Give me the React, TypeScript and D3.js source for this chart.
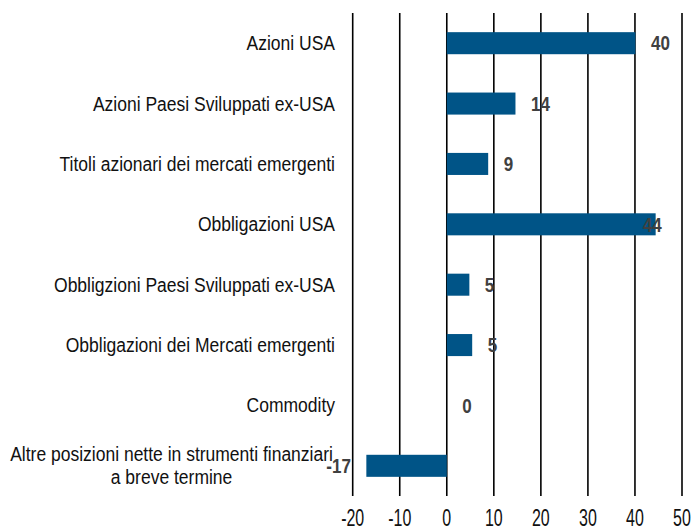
import React from "react";
import * as d3 from "d3";

// categories top to bottom, as in the source chart
const categories = [
  "Azioni USA",
  "Azioni Paesi Sviluppati ex-USA",
  "Titoli azionari dei mercati emergenti",
  "Obbligazioni USA",
  "Obbligzioni Paesi Sviluppati ex-USA",
  "Obbligazioni dei Mercati emergenti",
  "Commodity",
  "Altre posizioni nette in strumenti finanziari|a breve termine",
];
const values = [40.1, 14.6, 8.8, 44.4, 4.8, 5.4, 0, -17.1];
const valueLabels = ["40", "14", "9", "44", "5", "5", "0", "-17"];
const xTicks = [-20, -10, 0, 10, 20, 30, 40, 50];

const W = 693;
const H = 531;
const FONT = "'Liberation Sans', Arial, sans-serif";
const BAR = "#005487";
const CAT_SIZE = 20;
const CAT_SX = 0.875;

// width of a string in the category font
const measure = (s) => {
  const ctx = document.createElement("canvas").getContext("2d");
  ctx.font = `${CAT_SIZE}px ${FONT}`;
  return ctx.measureText(s).width * CAT_SX;
};

const App = () => {
  const x = d3.scaleLinear().domain([-20, 50]).range([352.7, 682]);
  const y = d3
    .scaleBand()
    .domain(categories)
    .range([13, 496])
    .paddingInner(0.635)
    .paddingOuter(0.3175);

  const labelMax = x(45.7);
  const labelRight = 335;

  return (
    <svg
      width={W}
      height={H}
      style={{ position: "absolute", left: 0, top: 0, background: "#fff" }}
    >
      {/* gridlines */}
      {xTicks.map((t) => (
        <line
          key={"g" + t}
          x1={x(t)}
          x2={x(t)}
          y1={13}
          y2={496}
          stroke="#000"
          strokeWidth={1.6}
        />
      ))}

      {/* bars */}
      {categories.map((c, i) => {
        const v = values[i];
        return (
          <rect
            key={"b" + i}
            x={x(Math.min(0, v))}
            y={y(c)}
            width={Math.abs(x(v) - x(0))}
            height={y.bandwidth()}
            fill={BAR}
          />
        );
      })}

      {/* value labels, pulled back when they would leave the plot */}
      {categories.map((c, i) => {
        const v = values[i];
        const cy = y(c) + y.bandwidth() / 2 + 7.3;
        let px = v < 0 ? x(v) - 15.5 : x(v) + 15.5;
        let anchor = v < 0 ? "end" : "start";
        if (v > 0 && px + 19 > x(50)) {
          px = labelMax;
          anchor = "end";
        }
        return (
          <text
            key={"v" + i}
            transform={`translate(${px},${cy}) scale(0.83,1)`}
            textAnchor={anchor}
            fontFamily={FONT}
            fontWeight="bold"
            fontSize={20.5}
            fill="#404040"
          >
            {valueLabels[i]}
          </text>
        );
      })}

      {/* category labels */}
      {categories.map((c, i) => {
        const lines = c.split("|");
        const cy = y(c) + y.bandwidth() / 2;
        const lh = 23;
        const top = cy - ((lines.length - 1) * lh) / 2;
        const wMax = Math.max(...lines.map(measure));
        const multi = lines.length > 1;
        const ax = multi ? labelRight - 2 - wMax / 2 : labelRight;
        return lines.map((ln, j) => (
          <text
            key={"c" + i + "-" + j}
            transform={`translate(${ax},${top + j * lh + 7}) scale(${CAT_SX},1)`}
            textAnchor={multi ? "middle" : "end"}
            fontFamily={FONT}
            fontSize={CAT_SIZE}
            fill="#111"
          >
            {ln}
          </text>
        ));
      })}

      {/* x tick labels */}
      {xTicks.map((t) => (
        <text
          key={"t" + t}
          transform={`translate(${x(t)},526) scale(0.68,1)`}
          textAnchor="middle"
          fontFamily={FONT}
          fontSize={23.5}
          fill="#111"
        >
          {t}
        </text>
      ))}
    </svg>
  );
};

export default App;
